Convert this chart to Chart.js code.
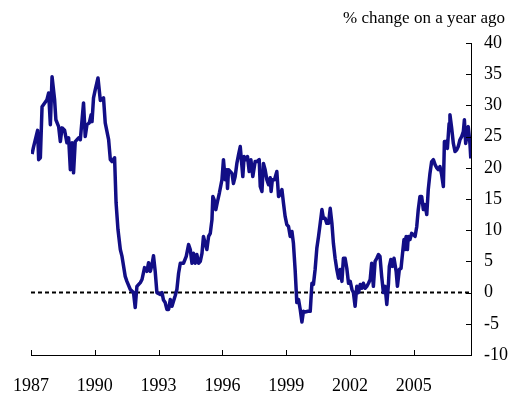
<!DOCTYPE html>
<html>
<head>
<meta charset="utf-8">
<script src="https://cdn.jsdelivr.net/npm/chart.js@4.4.1/dist/chart.umd.min.js"></script>
<style>
  html, body { margin: 0; padding: 0; background: #fff; }
</style>
</head>
<body>
<canvas id="growth-chart" width="516" height="405"></canvas>
<script>
// dates as decimal years, values in % change on a year ago
const dates = [
  1987.05, 1987.11, 1987.31, 1987.36, 1987.44, 1987.52, 1987.75, 1987.83, 1987.91, 1987.99,
  1988.11, 1988.17, 1988.30, 1988.38, 1988.46, 1988.58, 1988.69, 1988.77, 1988.85, 1988.93,
  1989.00, 1989.08, 1989.24, 1989.32, 1989.47, 1989.55, 1989.63, 1989.74, 1989.83, 1989.87,
  1989.94, 1990.02, 1990.15, 1990.26, 1990.41, 1990.49, 1990.65, 1990.73, 1990.81, 1990.93,
  1991.00, 1991.09, 1991.20, 1991.28, 1991.43, 1991.51, 1991.67, 1991.82, 1991.90, 1991.98,
  1992.14, 1992.22, 1992.34, 1992.45, 1992.53, 1992.61, 1992.69, 1992.76, 1992.84, 1992.92,
  1993.08, 1993.16, 1993.23, 1993.31, 1993.39, 1993.47, 1993.55, 1993.63, 1993.70, 1993.78,
  1993.86, 1993.94, 1994.02, 1994.17, 1994.30, 1994.41, 1994.49, 1994.57, 1994.64, 1994.72,
  1994.80, 1994.88, 1994.96, 1995.04, 1995.11, 1995.19, 1995.27, 1995.35, 1995.43, 1995.51,
  1995.55, 1995.61, 1995.69, 1995.77, 1995.86, 1995.98, 1996.05, 1996.13, 1996.21, 1996.24,
  1996.29, 1996.45, 1996.52, 1996.60, 1996.68, 1996.76, 1996.84, 1996.92, 1996.96, 1997.02,
  1997.12, 1997.18, 1997.26, 1997.34, 1997.43, 1997.54, 1997.62, 1997.73, 1997.78, 1997.86,
  1997.93, 1998.01, 1998.09, 1998.17, 1998.25, 1998.29, 1998.35, 1998.45, 1998.56, 1998.64,
  1998.72, 1998.80, 1998.87, 1998.95, 1999.03, 1999.11, 1999.19, 1999.27, 1999.34, 1999.42,
  1999.50, 1999.58, 1999.66, 1999.74, 1999.81, 1999.89, 2000.02, 2000.13, 2000.21, 2000.28,
  2000.36, 2000.44, 2000.52, 2000.60, 2000.68, 2000.75, 2000.83, 2000.91, 2000.99, 2001.07,
  2001.15, 2001.22, 2001.30, 2001.38, 2001.46, 2001.54, 2001.62, 2001.69, 2001.77, 2001.85,
  2001.93, 2002.01, 2002.09, 2002.16, 2002.24, 2002.32, 2002.40, 2002.48, 2002.56, 2002.63,
  2002.71, 2002.79, 2002.87, 2002.95, 2003.02, 2003.10, 2003.18, 2003.26, 2003.34, 2003.41,
  2003.49, 2003.57, 2003.65, 2003.73, 2003.81, 2003.85, 2003.92, 2003.99, 2004.07, 2004.17,
  2004.23, 2004.32, 2004.40, 2004.48, 2004.54, 2004.59, 2004.64, 2004.70, 2004.74, 2004.82,
  2004.90, 2004.98, 2005.06, 2005.14, 2005.21, 2005.29, 2005.37, 2005.45, 2005.53, 2005.61,
  2005.68, 2005.76, 2005.84, 2005.92, 2006.00, 2006.08, 2006.15, 2006.23, 2006.31, 2006.39,
  2006.44, 2006.52, 2006.58, 2006.66, 2006.70, 2006.78, 2006.86, 2006.94, 2007.02, 2007.09,
  2007.17, 2007.25, 2007.33, 2007.38, 2007.44, 2007.49, 2007.56, 2007.64, 2007.68
];
const growth = [
  22.2, 23.2, 26.0, 21.3, 21.6, 29.8, 30.9, 32.0, 26.9, 34.6,
  30.9, 27.7, 26.6, 24.2, 26.4, 26.0, 24.0, 24.8, 19.7, 24.0,
  19.2, 24.2, 24.8, 24.5, 30.4, 25.0, 26.9, 27.2, 28.5, 27.4,
  31.2, 32.5, 34.4, 30.8, 31.2, 27.2, 24.5, 21.3, 21.0, 21.6,
  14.4, 10.1, 6.9, 5.8, 2.6, 1.8, 0.5, 0.0, -2.4, 1.0,
  1.6, 2.1, 4.0, 3.4, 4.8, 3.4, 4.5, 5.9, 3.4, 0.0,
  -0.3, 0.0, -1.2, -1.6, -2.7, -2.7, -1.1, -2.2, -1.4, -0.5,
  0.5, 3.1, 4.7, 4.7, 5.8, 7.7, 6.9, 4.7, 6.3, 4.7,
  6.1, 4.7, 5.0, 6.3, 9.0, 7.9, 6.9, 9.0, 9.5, 11.7,
  15.4, 14.9, 13.3, 14.6, 16.0, 18.1, 21.3, 18.1, 19.7, 16.7,
  19.7, 19.1, 17.5, 18.6, 20.7, 22.1, 23.4, 20.2, 18.6, 21.8,
  21.3, 21.8, 19.4, 21.3, 18.6, 21.0, 21.0, 21.3, 17.0, 16.2,
  20.7, 19.7, 18.1, 17.3, 18.4, 16.2, 18.1, 18.1, 19.4, 15.4,
  15.7, 16.5, 14.4, 12.2, 10.9, 10.6, 9.0, 9.8, 7.9, 3.7,
  -1.6, -1.1, -2.7, -4.7, -3.0, -3.1, -3.0, -3.0, 1.5, 1.3,
  3.7, 7.1, 9.0, 11.1, 13.3, 11.9, 11.9, 11.1, 11.1, 13.5,
  11.1, 7.9, 5.5, 3.7, 2.3, 3.7, 1.8, 5.5, 5.5, 3.9,
  1.5, 1.8, 0.5, 0.0, -2.2, 1.0, 0.0, 1.3, 0.7, 1.5,
  0.7, 1.0, 1.5, 2.1, 4.7, 1.0, 5.0, 5.5, 6.1, 5.8,
  2.6, 0.0, 1.0, -1.9, 1.5, 4.2, 5.3, 4.2, 5.5, 3.4,
  1.0, 3.7, 3.9, 6.6, 8.5, 6.9, 9.0, 6.9, 9.0, 8.5,
  9.5, 9.3, 9.0, 10.6, 13.3, 15.4, 15.4, 13.3, 14.1, 12.5,
  16.5, 19.1, 21.0, 21.3, 20.5, 20.0, 19.7, 20.2, 18.9, 17.0,
  24.2, 24.2, 23.1, 27.1, 28.5, 26.4, 23.9, 22.6, 22.9, 23.4,
  24.5, 25.0, 25.8, 27.7, 23.9, 25.0, 26.6, 23.9, 21.5
];
const yearTicks = [1987, 1990, 1993, 1996, 1999, 2002, 2005];
const xRange = [1987, 2007.69];
const yRange = [-10, 40];
const titleText = "% change on a year ago";

const serif = "'Liberation Serif', 'Times New Roman', serif";

// small inward tick marks on both axes, plus the unit note above the right axis
const axisExtras = {
    id: "axisExtras",
    afterDraw(chart){
        const ctx = chart.ctx;
        const x = chart.scales.x;
        const y = chart.scales.y;
        ctx.save();
        ctx.strokeStyle = "#000";
        ctx.lineWidth = 1;
        ctx.beginPath();
        x.ticks.forEach((t, i) => {
            const px = Math.round(x.getPixelForTick(i)) + 0.5;
            ctx.moveTo(px, x.top);
            ctx.lineTo(px, x.top - 5);
        });
        y.ticks.forEach((t, i) => {
            const py = Math.round(y.getPixelForTick(i)) + 0.5;
            ctx.moveTo(y.left, py);
            ctx.lineTo(y.left - 5, py);
        });
        ctx.stroke();

        ctx.fillStyle = "#000";
        ctx.font = "17px " + serif;
        ctx.textAlign = "right";
        ctx.textBaseline = "middle";
        ctx.fillText(titleText, y.right - 11, 19);
        ctx.restore();
    }
};

document.addEventListener("DOMContentLoaded", function(){
    const points = dates.map((d, i) => ({x: d, y: growth[i]}));
    const zeroLine = xRange.map(d => ({x: d, y: 0}));

    new Chart(document.getElementById("growth-chart"), {
        type: "line",
        data: {
            datasets: [
                {
                    label: "zero",
                    data: zeroLine,
                    borderColor: "#000",
                    borderWidth: 2,
                    borderDash: [4, 3],
                    pointRadius: 0,
                    order: 2
                },
                {
                    label: "growth",
                    data: points,
                    borderColor: "#120e86",
                    borderWidth: 3.5,
                    borderJoinStyle: "round",
                    tension: 0,
                    pointRadius: 0,
                    order: 1
                }
            ]
        },
        plugins: [axisExtras],
        options: {
            responsive: false,
            animation: false,
            layout: { padding: { left: 31, right: 0, top: 43, bottom: 0 } },
            plugins: {
                legend: { display: false },
                tooltip: { enabled: false },
                title: { display: false }
            },
            scales: {
                x: {
                    type: "linear",
                    min: xRange[0],
                    max: xRange[1],
                    afterBuildTicks: scale => {
                        scale.ticks = yearTicks.map(v => ({ value: v }));
                    },
                    afterFit: scale => {
                        scale.height = 50;
                        scale.paddingLeft = 0;
                        scale.paddingRight = 0;
                    },
                    grid: { display: false, drawTicks: false },
                    border: { display: true, color: "#000", width: 1 },
                    ticks: {
                        color: "#000",
                        padding: 20,
                        maxRotation: 0,
                        autoSkip: false,
                        font: { family: serif, size: 18 },
                        callback: v => String(v)
                    }
                },
                y: {
                    position: "right",
                    min: yRange[0],
                    max: yRange[1],
                    afterFit: scale => {
                        scale.width = 45;
                        scale.paddingTop = 0;
                        scale.paddingBottom = 0;
                    },
                    grid: { display: false, drawTicks: false },
                    border: { display: true, color: "#000", width: 1 },
                    ticks: {
                        stepSize: 5,
                        color: "#000",
                        padding: 13,
                        font: { family: serif, size: 18 }
                    }
                }
            }
        }
    });
});
</script>
</body>
</html>
